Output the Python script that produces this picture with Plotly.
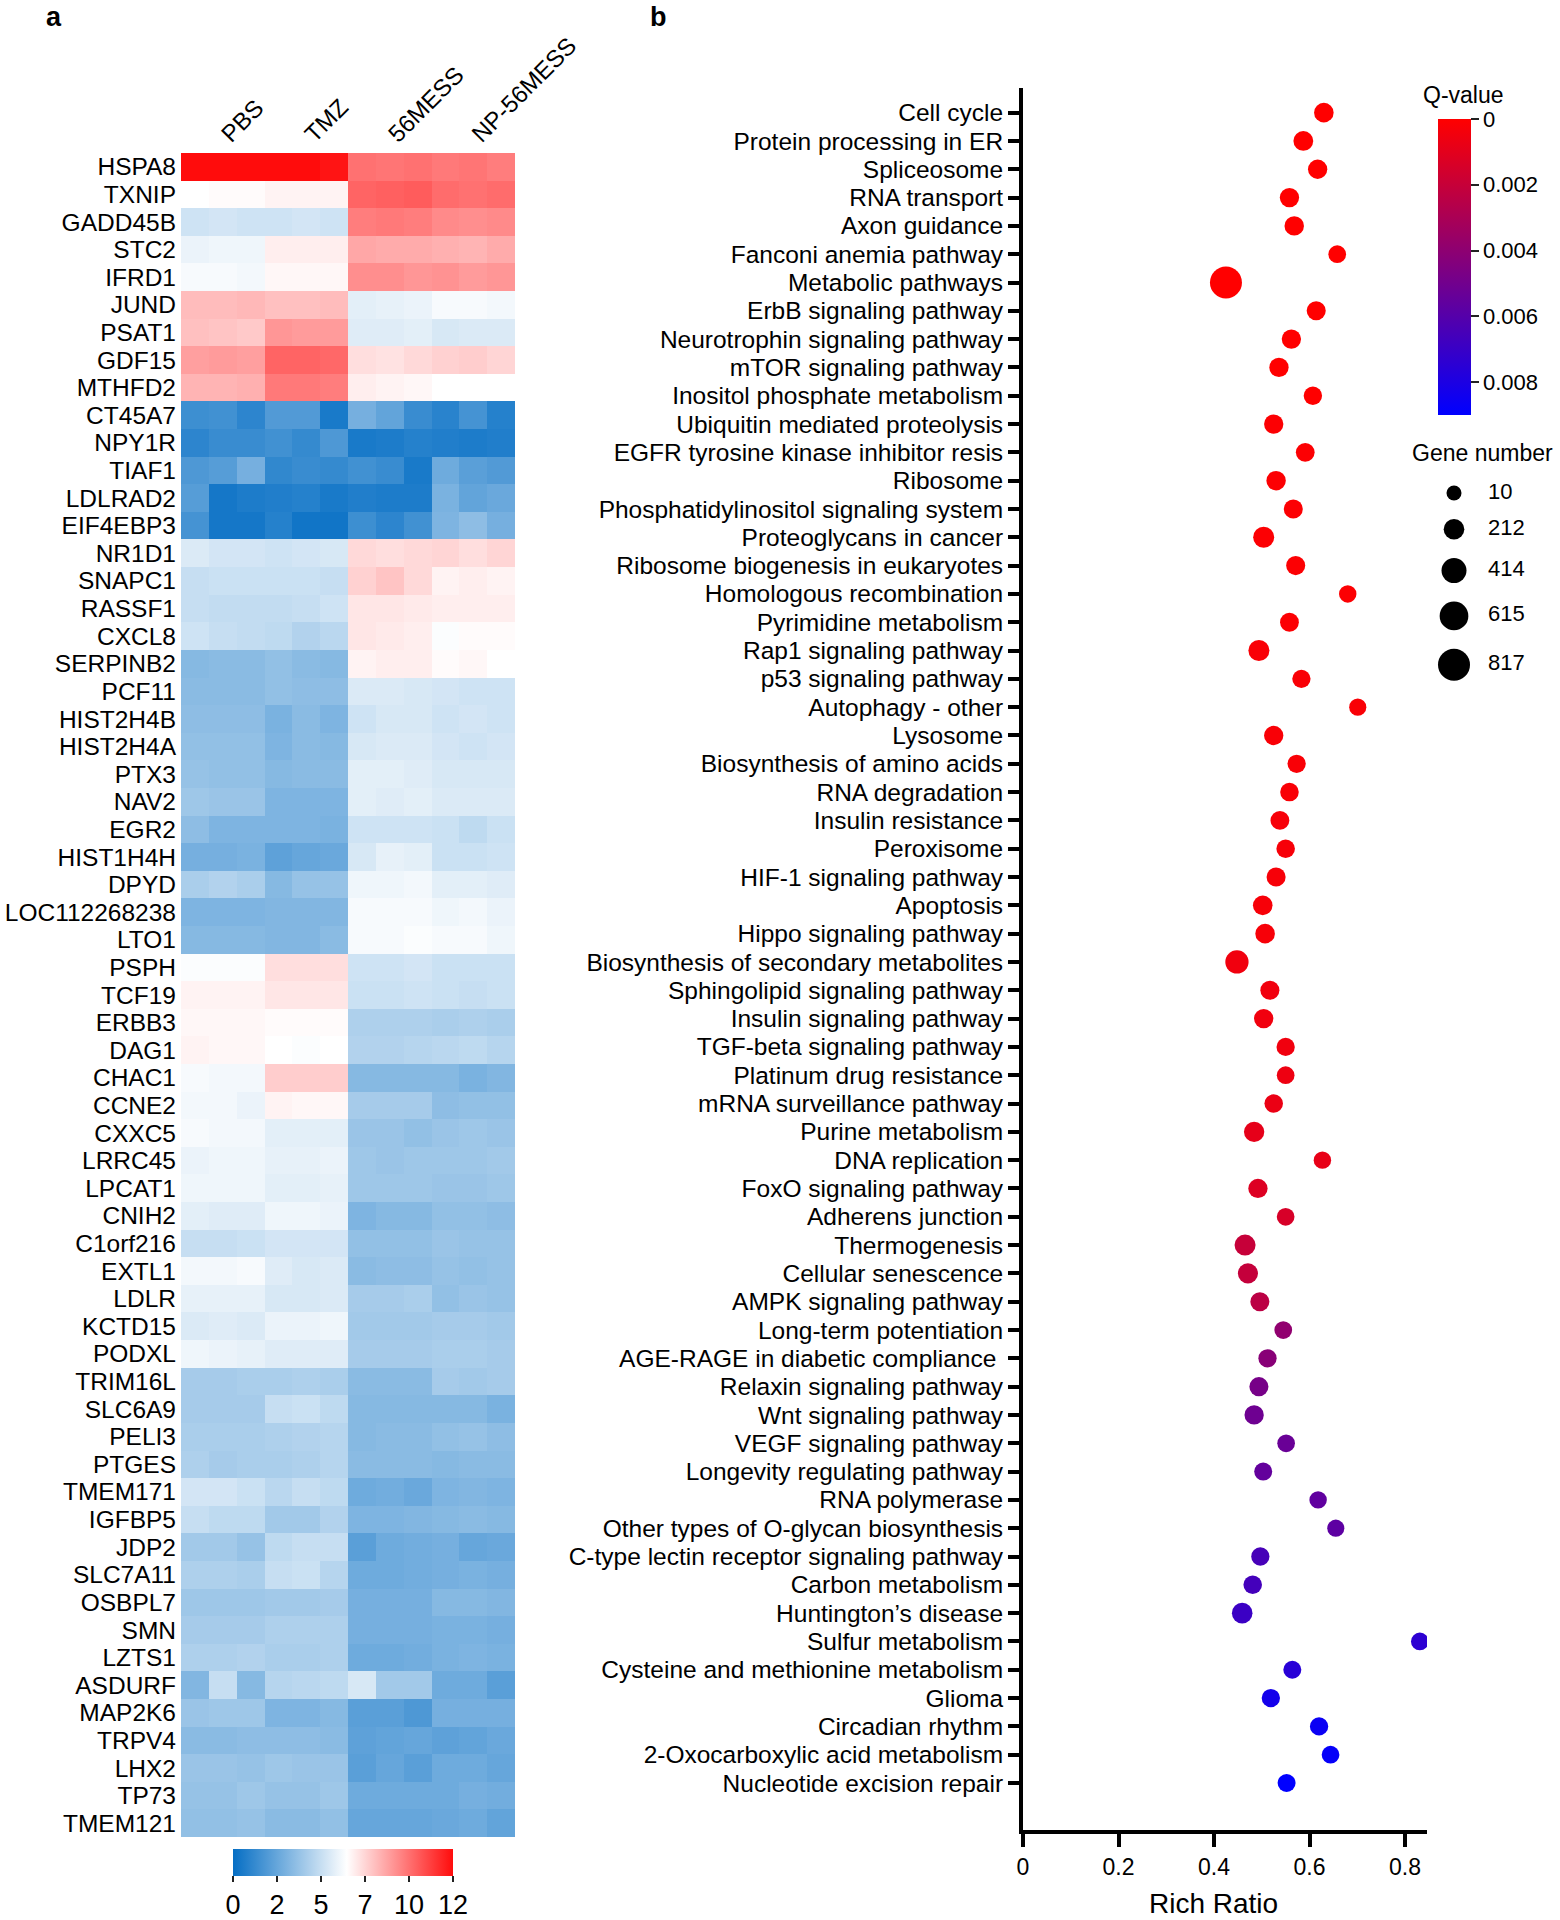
import math
import plotly.graph_objects as go

# ---------------- panel a: heatmap data ----------------
genes = ['HSPA8', 'TXNIP', 'GADD45B', 'STC2', 'IFRD1', 'JUND', 'PSAT1', 'GDF15', 'MTHFD2',
         'CT45A7', 'NPY1R', 'TIAF1', 'LDLRAD2', 'EIF4EBP3', 'NR1D1', 'SNAPC1', 'RASSF1', 'CXCL8',
         'SERPINB2', 'PCF11', 'HIST2H4B', 'HIST2H4A', 'PTX3', 'NAV2', 'EGR2', 'HIST1H4H', 'DPYD',
         'LOC112268238', 'LTO1', 'PSPH', 'TCF19', 'ERBB3', 'DAG1', 'CHAC1', 'CCNE2', 'CXXC5',
         'LRRC45', 'LPCAT1', 'CNIH2', 'C1orf216', 'EXTL1', 'LDLR', 'KCTD15', 'PODXL', 'TRIM16L',
         'SLC6A9', 'PELI3', 'PTGES', 'TMEM171', 'IGFBP5', 'JDP2', 'SLC7A11', 'OSBPL7', 'SMN',
         'LZTS1', 'ASDURF', 'MAP2K6', 'TRPV4', 'LHX2', 'TP73', 'TMEM121']

groups = ['PBS', 'TMZ', '56MESS', 'NP-56MESS']
group_center = [1, 4, 7, 10]

# 12 samples: PBS x3, TMZ x3, 56MESS x3, NP-56MESS x3
expr = [
    [12.0, 12.0, 12.0, 12.0, 12.0, 11.8, 9.6, 9.5, 9.6, 9.4, 9.5, 9.3],
    [6.2, 6.3, 6.3, 6.5, 6.5, 6.5, 9.9, 10.0, 10.1, 9.7, 9.6, 9.7],
    [5.0, 5.1, 5.0, 5.0, 5.1, 5.0, 9.3, 9.4, 9.3, 9.0, 8.9, 9.0],
    [5.7, 5.8, 5.8, 6.6, 6.6, 6.6, 8.3, 8.2, 8.2, 8.1, 8.0, 8.2],
    [6.0, 6.0, 5.9, 6.4, 6.4, 6.4, 8.9, 8.9, 8.7, 8.8, 8.6, 8.7],
    [7.8, 7.8, 7.9, 7.7, 7.7, 7.8, 5.5, 5.6, 5.7, 6.0, 6.0, 5.9],
    [7.7, 7.6, 7.5, 8.7, 8.6, 8.6, 5.4, 5.4, 5.5, 5.2, 5.3, 5.3],
    [8.5, 8.6, 8.5, 9.9, 9.9, 9.8, 7.0, 6.9, 7.1, 7.3, 7.4, 7.2],
    [8.0, 8.0, 8.1, 9.4, 9.4, 9.3, 6.6, 6.5, 6.4, 6.2, 6.2, 6.2],
    [1.4, 1.5, 1.0, 1.9, 1.9, 0.5, 2.8, 2.3, 1.3, 0.9, 1.6, 0.8],
    [1.0, 1.3, 1.3, 1.5, 1.2, 1.8, 0.5, 0.6, 0.8, 0.7, 0.6, 0.7],
    [1.8, 2.0, 2.8, 1.1, 1.3, 1.2, 1.5, 1.3, 0.5, 2.6, 2.1, 1.9],
    [2.0, 0.4, 0.6, 0.7, 0.8, 0.5, 0.7, 0.6, 0.6, 2.9, 2.3, 2.5],
    [1.6, 0.4, 0.4, 0.8, 0.3, 0.3, 1.4, 1.0, 1.5, 3.0, 3.4, 2.8],
    [5.3, 5.1, 5.1, 5.0, 5.1, 5.2, 7.1, 7.0, 7.1, 7.2, 7.0, 7.2],
    [4.8, 4.9, 4.9, 4.9, 4.9, 4.8, 7.3, 7.6, 7.1, 6.5, 6.6, 6.5],
    [4.8, 4.7, 4.7, 4.7, 4.8, 5.0, 6.8, 6.8, 6.7, 6.6, 6.6, 6.6],
    [5.0, 4.8, 4.7, 4.6, 4.3, 4.5, 6.8, 6.7, 6.6, 6.1, 6.3, 6.3],
    [3.2, 3.3, 3.3, 3.5, 3.3, 3.2, 6.5, 6.6, 6.6, 6.3, 6.4, 6.2],
    [3.3, 3.3, 3.3, 3.5, 3.4, 3.4, 5.3, 5.3, 5.2, 5.1, 5.0, 5.0],
    [3.4, 3.4, 3.4, 2.9, 3.3, 3.0, 5.0, 5.2, 5.2, 5.0, 5.1, 5.0],
    [3.5, 3.5, 3.5, 3.0, 3.3, 3.2, 5.2, 5.3, 5.3, 5.1, 5.0, 5.1],
    [3.6, 3.5, 3.5, 3.2, 3.3, 3.3, 5.5, 5.5, 5.4, 5.2, 5.2, 5.2],
    [3.8, 3.7, 3.7, 3.0, 3.0, 3.0, 5.5, 5.4, 5.5, 5.3, 5.3, 5.3],
    [3.4, 3.0, 3.0, 3.0, 3.0, 2.9, 5.0, 5.0, 5.0, 4.9, 4.6, 4.9],
    [2.8, 2.8, 2.9, 2.2, 2.4, 2.5, 5.2, 5.6, 5.5, 4.9, 4.9, 5.0],
    [4.1, 4.3, 4.1, 3.2, 3.6, 3.6, 5.8, 5.8, 5.9, 5.5, 5.5, 5.4],
    [3.0, 3.0, 3.0, 3.1, 3.1, 3.1, 6.0, 6.0, 6.0, 5.8, 5.9, 5.7],
    [3.2, 3.2, 3.2, 3.1, 3.1, 3.3, 6.0, 6.0, 6.1, 6.0, 6.0, 5.8],
    [6.1, 6.1, 6.1, 7.0, 7.0, 7.0, 5.0, 5.0, 5.1, 4.9, 4.9, 4.9],
    [6.5, 6.5, 6.5, 6.8, 6.8, 6.8, 4.9, 4.9, 5.0, 4.9, 4.8, 4.9],
    [6.4, 6.4, 6.4, 6.3, 6.3, 6.3, 4.2, 4.2, 4.2, 4.1, 4.2, 4.1],
    [6.5, 6.4, 6.4, 6.2, 6.1, 6.2, 4.3, 4.3, 4.4, 4.5, 4.6, 4.4],
    [6.0, 5.9, 5.9, 7.4, 7.4, 7.4, 3.2, 3.2, 3.2, 3.2, 2.9, 3.1],
    [5.9, 5.9, 5.7, 6.5, 6.4, 6.4, 4.0, 4.0, 4.0, 3.4, 3.5, 3.5],
    [6.0, 5.9, 5.9, 5.5, 5.5, 5.5, 3.7, 3.7, 3.5, 3.7, 3.8, 3.7],
    [5.7, 5.8, 5.8, 5.6, 5.6, 5.7, 3.8, 3.7, 3.8, 3.8, 3.8, 3.9],
    [5.8, 5.8, 5.8, 5.5, 5.5, 5.6, 3.8, 3.8, 3.8, 3.7, 3.7, 3.8],
    [5.5, 5.4, 5.4, 5.8, 5.8, 5.7, 3.0, 3.2, 3.2, 3.5, 3.5, 3.4],
    [4.8, 4.8, 4.9, 5.1, 5.1, 5.1, 3.5, 3.5, 3.5, 3.7, 3.6, 3.6],
    [5.9, 5.9, 6.0, 5.4, 5.2, 5.3, 3.3, 3.4, 3.4, 3.6, 3.5, 3.6],
    [5.6, 5.6, 5.6, 5.2, 5.2, 5.3, 4.0, 4.0, 4.1, 3.5, 3.7, 3.6],
    [5.3, 5.4, 5.3, 5.7, 5.7, 5.8, 3.9, 3.9, 3.9, 4.0, 4.0, 3.9],
    [5.8, 5.7, 5.6, 5.4, 5.4, 5.4, 4.0, 4.0, 4.0, 4.1, 4.1, 4.0],
    [4.0, 4.0, 4.1, 4.1, 4.2, 4.1, 3.3, 3.3, 3.3, 4.0, 3.9, 4.0],
    [4.0, 4.0, 4.0, 4.8, 4.9, 4.6, 3.2, 3.2, 3.2, 3.2, 3.2, 2.9],
    [4.1, 4.1, 4.1, 4.2, 4.3, 4.4, 3.2, 3.3, 3.3, 3.5, 3.6, 3.4],
    [4.2, 4.0, 4.1, 4.1, 4.2, 4.4, 3.3, 3.3, 3.3, 3.2, 3.3, 3.3],
    [5.1, 5.1, 4.9, 4.5, 4.8, 4.6, 2.6, 2.7, 2.5, 3.0, 3.1, 3.0],
    [4.8, 4.6, 4.6, 3.9, 3.9, 4.3, 3.0, 3.0, 3.1, 3.2, 3.3, 3.2],
    [3.9, 3.9, 3.6, 4.6, 4.8, 4.8, 2.1, 2.6, 2.7, 2.8, 2.4, 2.5],
    [4.2, 4.2, 4.1, 4.8, 4.9, 4.4, 2.6, 2.6, 2.7, 2.8, 2.9, 2.8],
    [3.8, 3.8, 3.8, 3.9, 3.9, 4.0, 2.8, 2.8, 2.8, 3.2, 3.2, 3.1],
    [4.0, 4.0, 4.0, 4.2, 4.2, 4.2, 2.8, 2.8, 2.8, 2.9, 2.9, 2.8],
    [4.2, 4.2, 4.3, 4.1, 4.1, 4.2, 2.6, 2.6, 2.7, 2.9, 3.0, 2.9],
    [3.1, 4.8, 3.2, 4.4, 4.5, 4.6, 5.2, 3.9, 3.9, 2.6, 2.6, 2.1],
    [3.7, 3.8, 3.8, 3.0, 3.0, 3.2, 2.1, 2.1, 1.8, 2.8, 2.8, 2.8],
    [3.3, 3.3, 3.4, 3.4, 3.4, 3.3, 2.2, 2.3, 2.4, 2.2, 2.3, 2.5],
    [3.7, 3.7, 3.6, 3.8, 3.7, 3.7, 2.1, 2.4, 2.1, 2.6, 2.6, 2.4],
    [3.6, 3.6, 3.8, 3.6, 3.6, 3.8, 2.6, 2.6, 2.6, 2.6, 2.8, 2.7],
    [3.5, 3.5, 3.6, 3.3, 3.3, 3.5, 2.4, 2.4, 2.4, 2.5, 2.6, 2.3],
]

expr_ticks = [0, 2.4, 4.8, 7.2, 9.6, 12]
expr_ticktext = ['0', '2', '5', '7', '10', '12']

# ---------------- panel b: KEGG enrichment ----------------
pathways = [
    'Cell cycle', 'Protein processing in ER', 'Spliceosome', 'RNA transport', 'Axon guidance',
    'Fanconi anemia pathway', 'Metabolic pathways', 'ErbB signaling pathway',
    'Neurotrophin signaling pathway', 'mTOR signaling pathway', 'Inositol phosphate metabolism',
    'Ubiquitin mediated proteolysis', 'EGFR tyrosine kinase inhibitor resis', 'Ribosome',
    'Phosphatidylinositol signaling system', 'Proteoglycans in cancer',
    'Ribosome biogenesis in eukaryotes', 'Homologous recombination', 'Pyrimidine metabolism',
    'Rap1 signaling pathway', 'p53 signaling pathway', 'Autophagy - other', 'Lysosome',
    'Biosynthesis of amino acids', 'RNA degradation', 'Insulin resistance', 'Peroxisome',
    'HIF-1 signaling pathway', 'Apoptosis', 'Hippo signaling pathway',
    'Biosynthesis of secondary metabolites', 'Sphingolipid signaling pathway',
    'Insulin signaling pathway', 'TGF-beta signaling pathway', 'Platinum drug resistance',
    'mRNA surveillance pathway', 'Purine metabolism', 'DNA replication', 'FoxO signaling pathway',
    'Adherens junction', 'Thermogenesis', 'Cellular senescence', 'AMPK signaling pathway',
    'Long-term potentiation', 'AGE-RAGE in diabetic compliance ', 'Relaxin signaling pathway',
    'Wnt signaling pathway', 'VEGF signaling pathway', 'Longevity regulating pathway',
    'RNA polymerase', 'Other types of O-glycan biosynthesis',
    'C-type lectin receptor signaling pathway', 'Carbon metabolism', 'Huntington\u2019s disease',
    'Sulfur metabolism', 'Cysteine and methionine metabolism', 'Glioma', 'Circadian rhythm',
    '2-Oxocarboxylic acid metabolism', 'Nucleotide excision repair']

rich_ratio = [0.630, 0.587, 0.617, 0.558, 0.568, 0.658, 0.425, 0.614, 0.562, 0.536,
              0.607, 0.525, 0.591, 0.530, 0.566, 0.504, 0.571, 0.680, 0.558, 0.494,
              0.583, 0.701, 0.525, 0.573, 0.558, 0.538, 0.550, 0.530, 0.502, 0.507,
              0.448, 0.517, 0.504, 0.550, 0.550, 0.525, 0.484, 0.627, 0.492, 0.550,
              0.465, 0.471, 0.496, 0.545, 0.512, 0.494, 0.484, 0.551, 0.503, 0.618,
              0.655, 0.497, 0.481, 0.459, 0.831, 0.564, 0.519, 0.620, 0.644, 0.552]

q_value = [0.0000, 0.0000, 0.0000, 0.0000, 0.0000, 0.0000, 0.0000, 0.0000, 0.0000, 0.0000,
           0.0000, 0.0001, 0.0001, 0.0001, 0.0001, 0.0001, 0.0001, 0.0001, 0.0001, 0.0002,
           0.0002, 0.0002, 0.0002, 0.0002, 0.0002, 0.0003, 0.0003, 0.0003, 0.0003, 0.0003,
           0.0005, 0.0005, 0.0005, 0.0005, 0.0006, 0.0007, 0.0009, 0.0008, 0.0012, 0.0014,
           0.0020, 0.0021, 0.0024, 0.0039, 0.0042, 0.0048, 0.0051, 0.0053, 0.0055, 0.0056,
           0.0057, 0.0065, 0.0066, 0.0069, 0.0074, 0.0076, 0.0083, 0.0086, 0.0088, 0.0090]

gene_number = [170, 180, 160, 160, 165, 100, 817, 150, 160, 160,
               125, 160, 140, 165, 150, 230, 150, 90, 140, 230,
               120, 80, 160, 120, 130, 140, 130, 150, 170, 170,
               330, 150, 160, 120, 100, 130, 200, 90, 160, 100,
               230, 190, 150, 100, 120, 150, 160, 100, 110, 90,
               80, 120, 130, 210, 100, 110, 120, 120, 100, 110]

size_breaks = [10, 212, 414, 615, 817]
q_ticks = [0, 0.002, 0.004, 0.006, 0.008]
rich_ticks = [0, 0.2, 0.4, 0.6, 0.8]

FONT = 'Liberation Sans, Arial, Helvetica, sans-serif'
W, H = 1560, 1920


def dot_size(n):
    # area-proportional scale, 10 genes -> 15 px, 817 genes -> 32 px
    return math.sqrt(215 + 0.99 * n)


def px_x(p):
    return p / W


def px_y(p):
    return 1 - p / H


fig = go.Figure()

# heatmap
fig.add_trace(go.Heatmap(
    z=expr, x=list(range(12)), y=genes,
    zmin=0, zmax=12,
    colorscale=[[0, 'rgb(5,110,196)'], [0.517, 'rgb(255,255,255)'], [1, 'rgb(255,12,12)']],
    xaxis='x', yaxis='y',
    colorbar=dict(orientation='h', xref='container', yref='container',
                  x=px_x(343), xanchor='center', y=px_y(1849), yanchor='top',
                  len=220 / W, lenmode='fraction', thickness=27, xpad=0, ypad=0,
                  outlinewidth=0, ticks='outside', ticklen=6, tickwidth=1.5, tickcolor='#222',
                  tickvals=expr_ticks, ticktext=expr_ticktext,
                  tickfont=dict(size=27, color='black', family=FONT)),
))

# dot plot (colour uses -q so that q = 0 sits at the top of the colour bar)
fig.add_trace(go.Scatter(
    x=rich_ratio, y=pathways, mode='markers', xaxis='x2', yaxis='y2',
    marker=dict(size=[dot_size(n) for n in gene_number], color=[-q for q in q_value],
                cmin=-0.009, cmax=0,
                colorscale=[[0, 'rgb(0,0,255)'], [1, 'rgb(255,0,0)']],
                line=dict(width=0), opacity=1,
                colorbar=dict(xref='container', yref='container',
                              x=px_x(1438), xanchor='left', y=px_y(119), yanchor='top',
                              len=(415 - 119) / H, lenmode='fraction', thickness=33,
                              xpad=0, ypad=0, outlinewidth=0,
                              ticks='outside', ticklen=8, tickwidth=1.5, tickcolor='#222',
                              tickvals=[-t for t in q_ticks],
                              ticktext=['0', '0.002', '0.004', '0.006', '0.008'],
                              tickfont=dict(size=22, color='black', family=FONT))),
    showlegend=False,
))

# gene number legend (own small axis in pixel units)
leg_sizes = [dot_size(n) for n in size_breaks]
leg_y = [493]
for i in range(1, len(leg_sizes)):
    leg_y.append(leg_y[-1] + (leg_sizes[i - 1] + leg_sizes[i]) / 2 + 18.5)
fig.add_trace(go.Scatter(
    x=[1454] * len(size_breaks), y=leg_y, mode='markers', xaxis='x3', yaxis='y3',
    marker=dict(size=leg_sizes, color='rgb(0,0,0)', opacity=1, line=dict(width=0)),
    showlegend=False,
))
fig.add_trace(go.Scatter(
    x=[1488] * len(size_breaks), y=leg_y, mode='text', xaxis='x3', yaxis='y3',
    text=[str(n) for n in size_breaks], textposition='middle right',
    textfont=dict(size=22, color='black', family=FONT), showlegend=False,
))

fig.update_layout(
    width=W, height=H, margin=dict(l=0, r=0, t=0, b=0, autoexpand=False),
    paper_bgcolor='white', plot_bgcolor='white',
    font=dict(family=FONT, color='black'),
    xaxis=dict(domain=[px_x(181), px_x(515)], range=[-0.5, 11.5], side='top',
               tickvals=group_center, ticktext=groups, tickangle=-45,
               showgrid=False, zeroline=False, showline=False, ticks='',
               tickfont=dict(size=24, color='black'), anchor='y'),
    yaxis=dict(domain=[px_y(1837), px_y(153)], autorange='reversed',
               tickmode='array', tickvals=genes, ticktext=genes,
               showgrid=False, zeroline=False, showline=False, ticks='',
               ticklabelstandoff=4,
               tickfont=dict(size=24.5, color='black'), anchor='x'),
    xaxis2=dict(domain=[px_x(1023), px_x(1427)], range=[0, 0.846], anchor='y2',
                tickvals=rich_ticks, ticktext=['0', '0.2', '0.4', '0.6', '0.8'],
                showgrid=False, zeroline=False, showline=True, linewidth=4, linecolor='black',
                ticks='outside', ticklen=13, tickwidth=4, tickcolor='black',
                tickfont=dict(size=23, color='black')),
    yaxis2=dict(domain=[px_y(1830), px_y(88)], anchor='x2', type='category',
                categoryorder='array', categoryarray=pathways,
                tickmode='array', tickvals=pathways, ticktext=pathways,
                range=[len(pathways) - 1 + 1.66, -0.87],
                showgrid=False, zeroline=False, showline=True, linewidth=4, linecolor='black',
                ticks='outside', ticklen=11, tickwidth=4, tickcolor='black',
                tickfont=dict(size=24.5, color='black')),
    xaxis3=dict(domain=[px_x(1400), 1], range=[1400, 1560], visible=False, anchor='y3'),
    yaxis3=dict(domain=[px_y(700), px_y(470)], range=[700, 470], visible=False, anchor='x3'),
    annotations=[
        dict(text='<b>a</b>', x=px_x(54), y=px_y(17), xref='paper', yref='paper',
             xanchor='center', yanchor='middle', showarrow=False,
             font=dict(size=27, color='black')),
        dict(text='<b>b</b>', x=px_x(658), y=px_y(17), xref='paper', yref='paper',
             xanchor='center', yanchor='middle', showarrow=False,
             font=dict(size=27, color='black')),
        dict(text='Q-value', x=px_x(1463), y=px_y(95), xref='paper', yref='paper',
             xanchor='center', yanchor='middle', showarrow=False,
             font=dict(size=23, color='black')),
        dict(text='Gene number', x=px_x(1482), y=px_y(453), xref='paper', yref='paper',
             xanchor='center', yanchor='middle', showarrow=False,
             font=dict(size=23, color='black')),
        dict(text='Rich Ratio', x=px_x(1213), y=px_y(1903), xref='paper', yref='paper',
             xanchor='center', yanchor='middle', showarrow=False,
             font=dict(size=28, color='black')),
    ],
)

fig.write_html('out.html', config={'displayModeBar': False},
               post_script="document.body.style.margin='0';")
